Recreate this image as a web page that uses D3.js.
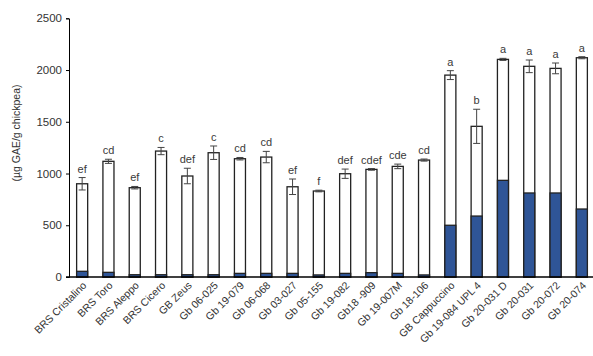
<!DOCTYPE html>
<html><head><meta charset="utf-8">
<script src="https://cdn.jsdelivr.net/npm/d3@7"></script>
<style>body{margin:0;background:#fff}svg{display:block;font-family:"Liberation Sans",Arial,sans-serif}</style>
</head><body><svg id="c" width="593" height="356"></svg>
<script>
const categories = ["BRS Cristalino","BRS Toro","BRS Aleppo","BRS Cicero","GB Zeus","Gb 06-025","Gb 19-079","Gb 06-068","Gb 03-027","Gb 05-155","Gb 19-082","Gb18 -909","Gb 19-007M","Gb 18-106","GB Cappuccino","Gb 19-084 UPL 4","Gb 20-031 D","Gb 20-031","Gb 20-072","Gb 20-074"];
const totals = [901,1118,863,1217,976,1201,1143,1159,872,831,998,1040,1069,1130,1951,1456,2103,2036,2016,2119];
const darkPart = [55,45,22,22,22,22,35,35,35,20,35,42,35,20,500,589,934,812,812,657];
const errors = [60,20,12,35,75,65,12,55,75,8,45,8,22,10,43,165,10,61,52,10];
const letters = ["ef","cd","ef","c","def","c","cd","cd","ef","f","def","cdef","cde","cd","a","b","a","a","a","a"];
const yTicks = [0,500,1000,1500,2000,2500];
const yLabel = "(µg GAE/g chickpea)";

const svg = d3.select("#c");
const x = d3.scaleBand().domain(categories).range([69,595]).paddingInner(0.58).paddingOuter(0.29);
const y = d3.scaleLinear().domain([0,2500]).range([277,18.3]);

// y axis
const ya = svg.append("g").attr("transform","translate(69,0)")
  .call(d3.axisLeft(y).tickValues(yTicks).tickFormat(d3.format("d")).tickSize(3).tickPadding(4));
ya.select(".domain").attr("stroke","#000").attr("stroke-width",1);
ya.selectAll("text").attr("font-size",11.5).attr("fill","#333");

// bars
const g = svg.append("g");
categories.forEach((c,i)=>{
  const bx = x(c), bw = x.bandwidth();
  g.append("rect").attr("x",bx).attr("y",y(totals[i])).attr("width",bw)
    .attr("height",y(0)-y(totals[i])).attr("fill","#fff").attr("stroke","#222").attr("stroke-width",1.3);
  g.append("rect").attr("x",bx).attr("y",y(darkPart[i])).attr("width",bw)
    .attr("height",y(0)-y(darkPart[i])).attr("fill","#2f5597").attr("stroke","#222").attr("stroke-width",1.3);
  const cx = bx+bw/2, hi=y(totals[i]+errors[i]), lo=y(totals[i]-errors[i]);
  g.append("line").attr("x1",cx).attr("x2",cx).attr("y1",hi).attr("y2",lo).attr("stroke","#444").attr("stroke-width",1);
  [hi,lo].forEach(v=>g.append("line").attr("x1",cx-3.5).attr("x2",cx+3.5).attr("y1",v).attr("y2",v).attr("stroke","#444").attr("stroke-width",1));
  g.append("text").attr("x",cx).attr("y",hi-5).attr("text-anchor","middle").attr("font-size",11).attr("fill","#3a3a3a").text(letters[i]);
});

// x axis
const xa = svg.append("g").attr("transform","translate(0,277)")
  .call(d3.axisBottom(x).tickSize(0).tickPadding(0));
xa.select(".domain").attr("d","M66,0H593").attr("stroke","#000").attr("stroke-width",1.3);
xa.selectAll("text").attr("font-size",10.5).attr("fill","#333")
  .attr("text-anchor","end").attr("dy",null)
  .attr("transform","translate(5,9) rotate(-45)");

svg.append("text").attr("transform","translate(20,133) rotate(-90)")
  .attr("text-anchor","middle").attr("font-size",10.5).attr("fill","#333").text(yLabel);
</script></body></html>
